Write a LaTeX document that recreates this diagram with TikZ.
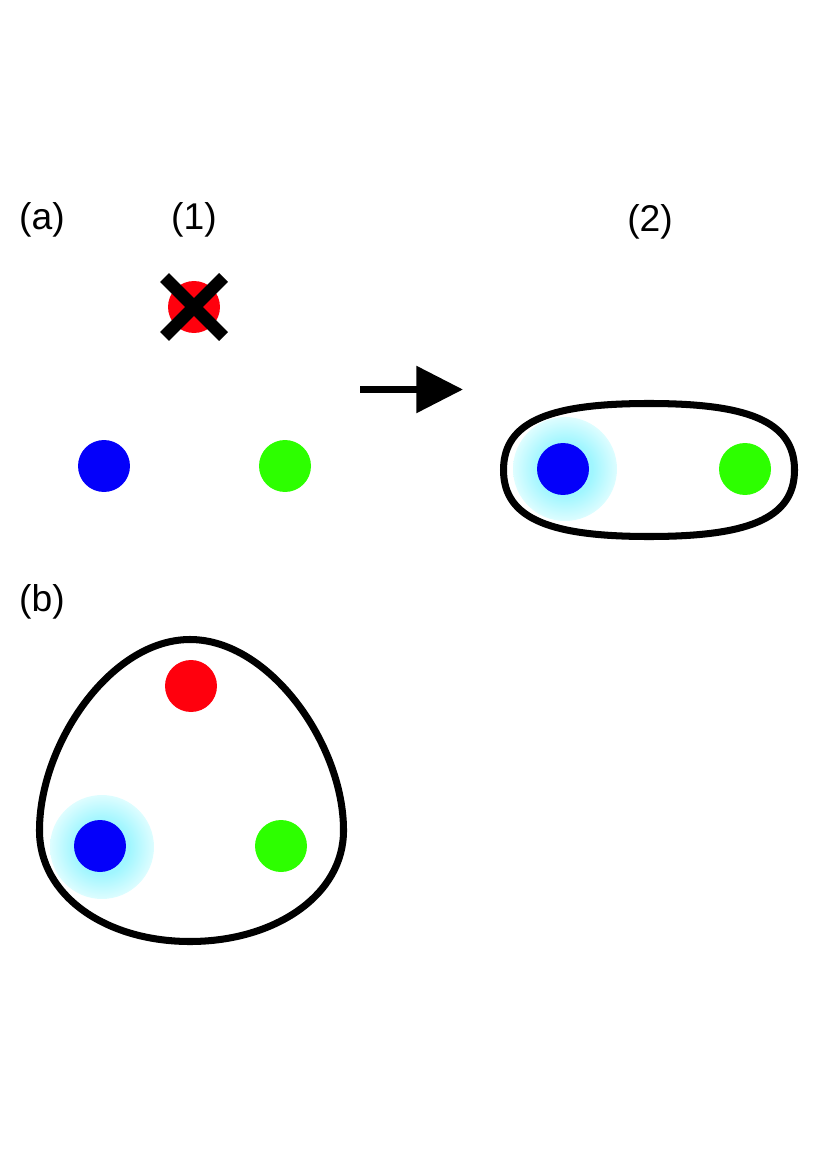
\documentclass[tikz,border=0pt]{standalone}
\usepackage{fontspec}
\setmainfont{Liberation Sans}
\usetikzlibrary{arrows.meta,calc}
\definecolor{dotred}{RGB}{255,0,13}
\definecolor{dotblue}{RGB}{4,0,250}
\definecolor{dotgreen}{RGB}{45,255,0}
\definecolor{glowin}{RGB}{160,246,255}
\definecolor{glowout}{RGB}{222,253,255}
\pgfdeclareradialshading{glowshade}{\pgfpoint{0bp}{0bp}}{%
  color(0bp)=(glowin); color(13bp)=(glowin); color(25bp)=(glowout); color(50bp)=(glowout)}
\tikzset{
  dot/.style={circle,inner sep=0pt,minimum size=1.04cm},
  reddot/.style={dot,fill=dotred},
  bluedot/.style={dot,fill=dotblue},
  greendot/.style={dot,fill=dotgreen},
  glow/.style={circle,inner sep=0pt,minimum size=2.08cm,shading=glowshade},
  ring/.style={draw=black,line width=4pt},
  cross/.style={draw=black,line width=7.2pt},
  flow/.style={-{Triangle[length=26.6pt,width=26pt]},line width=4pt},
  tag/.style={font=\fontsize{21.2}{25}\selectfont,inner sep=0pt}
}
\begin{document}
\begin{tikzpicture}[x=0.02cm,y=-0.02cm]
  \useasboundingbox (0,0) rectangle (814,1151);
  % labels
  \node[tag] (la) at (42,220) {(a)};
  \node[tag] (l1) at (194,220) {(1)};
  \node[tag] (l2) at (650,222) {(2)};
  \node[tag] (lb) at (42,602) {(b)};
  % (a)(1): red one removed
  \node[reddot] (r1) at (194,307) {};
  \node[bluedot] (b1) at (104,466) {};
  \node[greendot] (g1) at (285,466) {};
  \draw[cross] ($(r1)+(-29.5,-29.5)$) -- ($(r1)+(29.5,29.5)$);
  \draw[cross] ($(r1)+(29.5,-29.5)$) -- ($(r1)+(-29.5,29.5)$);
  % arrow
  \coordinate (s) at (360,389.5);
  \coordinate (e) at (463,389.5);
  \draw[flow] (s) -- (e);
  % (a)(2): pair
  \draw[ring] (649,403.5) .. controls (745,403.5) and (794.5,420) .. (794.5,470)
    .. controls (794.5,520) and (745,536.5) .. (649,536.5)
    .. controls (553,536.5) and (503.5,520) .. (503.5,470)
    .. controls (503.5,420) and (553,403.5) .. (649,403.5) -- cycle;
  \node[glow] (h2) at (565,469) {};
  \node[bluedot] (b2) at (563,469) {};
  \node[greendot] (g2) at (745,469) {};
  % (b): triple
  \draw[ring] (190,639.5) .. controls (270,639.5) and (343.5,745) .. (343.5,830)
    .. controls (344,895) and (275,941.5) .. (190,941.5)
    .. controls (105,941.5) and (39,895) .. (39.5,830)
    .. controls (39.5,745) and (110,639.5) .. (190,639.5) -- cycle;
  \node[reddot] (r3) at (191,686) {};
  \node[glow] (h3) at (102,847) {};
  \node[bluedot] (b3) at (100,846) {};
  \node[greendot] (g3) at (281,846) {};
\end{tikzpicture}
\end{document}
